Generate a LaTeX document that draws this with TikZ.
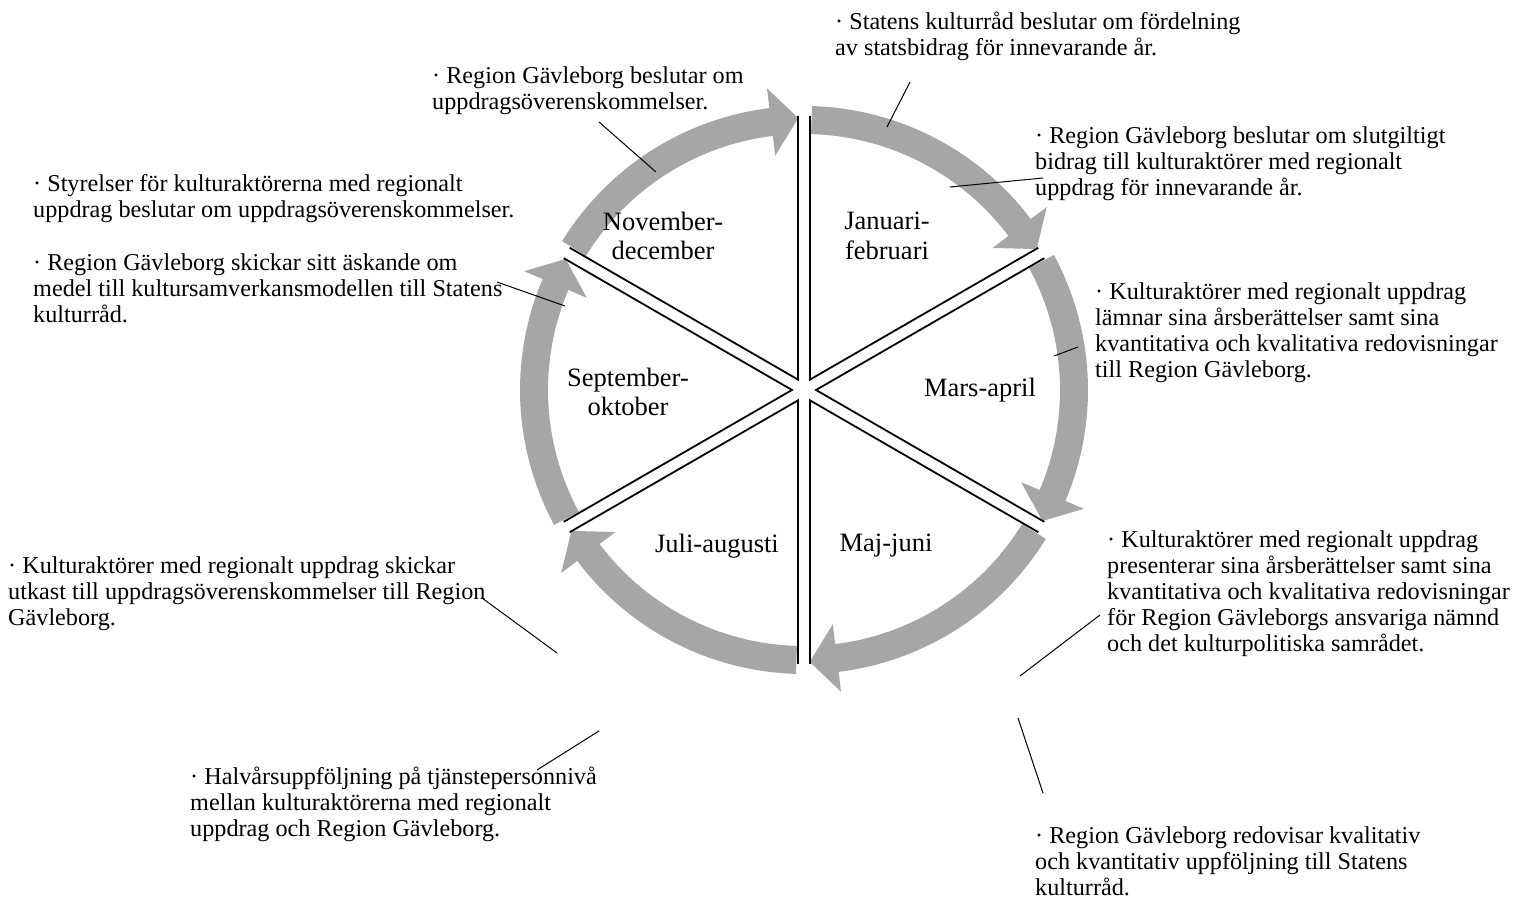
\documentclass[tikz,border=0pt]{standalone}
\usepackage{fontspec}
\setmainfont{Liberation Serif}
\definecolor{pilgra}{RGB}{166,166,166}
\newcommand{\rutafont}{\fontsize{24.2}{26}\selectfont}
\newcommand{\manadfont}{\fontsize{26.5}{29.5}\selectfont}
\tikzset{
    %Define style for the text boxes
    ruta/.style={
           anchor=north west,
           inner sep=0pt,
           align=left,
           font=\rutafont},
    %Define style for the month names
    manad/.style={
           align=center,
           inner sep=0pt,
           font=\manadfont},
    % Define style for the thin pointer lines
    streck/.style={
           line width=1pt},
    % Define style for the spokes and the grey ring
    eker/.style={
           line width=1.8pt},
    pilband/.style={
           draw=pilgra,
           line width=28pt},
    pilhuvud/.style={
           fill=pilgra}
}
\begin{document}
\begin{tikzpicture}[x=1pt,y=1pt]
\useasboundingbox (0,0) rectangle (1514,901);
\coordinate (mitt) at (804,511);

% ring of arrows and spokes
\begin{scope}[shift={(mitt)}]
\foreach \s in {90,30,-30,-90,-150,150} {
  \pgfmathsetmacro{\e}{\s-60}
  \draw[pilband] (\s-1.6:270) arc[start angle=\s-1.6, end angle=\e+6.6, radius=270pt];
  \fill[pilhuvud] (\e+1.2:272) -- (\e+7:236) -- (\e+7:304) -- cycle;
  \draw[eker] ([shift={(\s-90:6)}]\s:274) -- (\s-30:12) -- ([shift={(\e+90:6)}]\e:274);
}
\end{scope}

% month names
\node[manad] (jan) at (887,665) {Januari-\\februari};
\node[manad] (mar) at (980,511) {Mars-april};
\node[manad] (maj) at (886,355) {Maj-juni};
\node[manad] (jul) at (717,355) {Juli-augusti};
\node[manad] (sep) at (628,509) {September-\\oktober};
\node[manad] (nov) at (663,665) {November-\\december};

% texts round the ring
\node[ruta] (statens) at (835,889) {· Statens kulturråd beslutar om fördelning\\av statsbidrag för innevarande år.};
\node[ruta] (slutbidrag) at (1035,774) {· Region Gävleborg beslutar om slutgiltigt\\bidrag till kulturaktörer med regionalt\\uppdrag för innevarande år.};
\node[ruta] (lamnar) at (1095,618) {· Kulturaktörer med regionalt uppdrag\\lämnar sina årsberättelser samt sina\\kvantitativa och kvalitativa redovisningar\\till Region Gävleborg.};
\node[ruta] (presenterar) at (1107,370) {· Kulturaktörer med regionalt uppdrag\\presenterar sina årsberättelser samt sina\\kvantitativa och kvalitativa redovisningar\\för Region Gävleborgs ansvariga nämnd\\och det kulturpolitiska samrådet.};
\node[ruta] (redovisar) at (1035,74) {· Region Gävleborg redovisar kvalitativ\\och kvantitativ uppföljning till Statens\\kulturråd.};
\node[ruta] (halvar) at (190,134) {· Halvårsuppföljning på tjänstepersonnivå\\mellan kulturaktörerna med regionalt\\uppdrag och Region Gävleborg.};
\node[ruta] (utkast) at (8,344) {· Kulturaktörer med regionalt uppdrag skickar\\utkast till uppdragsöverenskommelser till Region\\Gävleborg.};
\node[ruta] (askande) at (33,647) {· Region Gävleborg skickar sitt äskande om\\medel till kultursamverkansmodellen till Statens\\kulturråd.};
\node[ruta] (styrelser) at (33,727) {· Styrelser för kulturaktörerna med regionalt\\uppdrag beslutar om uppdragsöverenskommelser.};
\node[ruta] (overens) at (432,834) {· Region Gävleborg beslutar om\\uppdragsöverenskommelser.};

% pointer lines
\coordinate (s1a) at (599,779); \coordinate (s1b) at (656,729);
\coordinate (s2a) at (910,819); \coordinate (s2b) at (887,774);
\coordinate (s3a) at (950,714); \coordinate (s3b) at (1043,723);
\coordinate (s4a) at (1054,545); \coordinate (s4b) at (1078,554);
\coordinate (s5a) at (1020,225); \coordinate (s5b) at (1100,286);
\coordinate (s6a) at (1018,183); \coordinate (s6b) at (1043,108);
\coordinate (s7a) at (482,303); \coordinate (s7b) at (557,248);
\coordinate (s8a) at (537,131); \coordinate (s8b) at (599,170);
\coordinate (s9a) at (497,619); \coordinate (s9b) at (565,595);
\foreach \i in {1,...,9}
  \draw[streck] (s\i a) -- (s\i b);
\end{tikzpicture}
\end{document}
